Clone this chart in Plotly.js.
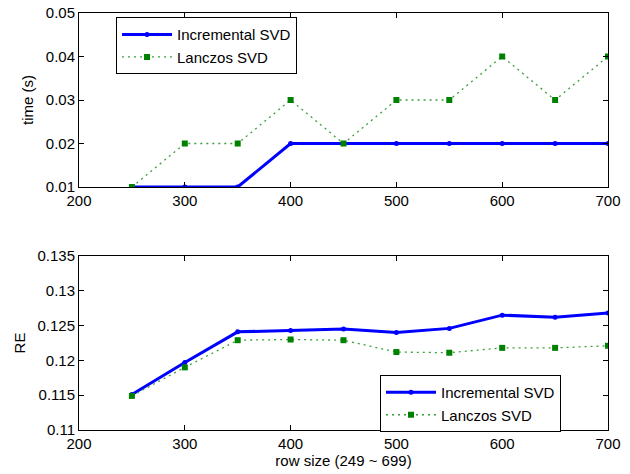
<!DOCTYPE html>
<html>
<head>
<meta charset="utf-8">
<script src="https://cdn.plot.ly/plotly-3.0.1.min.js"></script>
<style>html,body{margin:0;padding:0;background:#fff}#chart{width:630px;height:474px}</style>
</head>
<body>
<div id="chart"></div>
<script>
// Data
const rowSize = [250, 300, 350, 400, 450, 500, 550, 600, 650, 700];
const timeIncremental = [0.01, 0.01, 0.01, 0.02, 0.02, 0.02, 0.02, 0.02, 0.02, 0.02];
const timeLanczos = [0.01, 0.02, 0.02, 0.03, 0.02, 0.03, 0.03, 0.04, 0.03, 0.04];
const reIncremental = [0.1151, 0.1197, 0.1241, 0.1243, 0.1245, 0.1240, 0.1246, 0.1265, 0.1262, 0.1268];
const reLanczos = [0.1149, 0.1190, 0.1229, 0.1230, 0.1229, 0.1212, 0.1211, 0.1218, 0.1218, 0.1221];
const seriesNames = ["Incremental SVD", "Lanczos SVD"];
const xTitle = "row size (249 ~ 699)";
const yTitleTop = "time (s)";
const yTitleBottom = "RE";

const blue = "#0000ff", green = "#008000", greenLine = "#3a9f3a";
const font = {family: "Liberation Sans, Arial, sans-serif", size: 15, color: "#000"};

function incTrace(y, xa, ya, leg) {
  return {x: rowSize, y: y, xaxis: xa, yaxis: ya, legend: leg, name: seriesNames[0],
    type: "scatter", mode: "lines+markers",
    line: {color: blue, width: 3}, marker: {color: blue, size: 5, symbol: "circle"}};
}
function lanTrace(y, xa, ya, leg) {
  return {x: rowSize, y: y, xaxis: xa, yaxis: ya, legend: leg, name: seriesNames[1],
    type: "scatter", mode: "lines+markers",
    line: {color: greenLine, width: 1.3, dash: "2px,4px"}, marker: {color: green, size: 6, symbol: "square"}};
}

const data = [
  incTrace(timeIncremental, "x", "y", "legend"),
  lanTrace(timeLanczos, "x", "y", "legend"),
  incTrace(reIncremental, "x2", "y2", "legend2"),
  lanTrace(reLanczos, "x2", "y2", "legend2")
];

const axBase = {showgrid: false, zeroline: false, showline: true, linecolor: "#000", linewidth: 1,
  mirror: "ticks", ticks: "inside", ticklen: 5, tickcolor: "#000", tickfont: font};

const layout = {
  width: 630, height: 474,
  margin: {l: 79, r: 22, t: 13, b: 44},
  paper_bgcolor: "#fff", plot_bgcolor: "#fff",
  font: font,
  showlegend: true,
  xaxis: Object.assign({}, axBase, {domain: [0, 1], anchor: "y", range: [200, 700], dtick: 100, tick0: 200}),
  yaxis: Object.assign({}, axBase, {domain: [0.5827, 1], anchor: "x", range: [0.01, 0.05], dtick: 0.01, tick0: 0.01,
    title: {text: yTitleTop, font: font, standoff: 8}}),
  xaxis2: Object.assign({}, axBase, {domain: [0, 1], anchor: "y2", range: [200, 700], dtick: 100, tick0: 200,
    title: {text: xTitle, font: font, standoff: 4}}),
  yaxis2: Object.assign({}, axBase, {domain: [0, 0.4173], anchor: "x2", range: [0.11, 0.135], dtick: 0.005, tick0: 0.11,
    title: {text: yTitleBottom, font: font, standoff: 8}}),
  legend: {x: 0.07, y: 0.99, xanchor: "left", yanchor: "top", bgcolor: "#fff", bordercolor: "#000", borderwidth: 1,
    font: font, itemwidth: 50, tracegroupgap: 0},
  legend2: {x: 0.569, y: 0.1319, xanchor: "left", yanchor: "top", bgcolor: "#fff", bordercolor: "#000", borderwidth: 1,
    font: font, itemwidth: 50, tracegroupgap: 0}
};

Plotly.newPlot("chart", data, layout, {displayModeBar: false, staticPlot: true});
</script>
</body>
</html>
